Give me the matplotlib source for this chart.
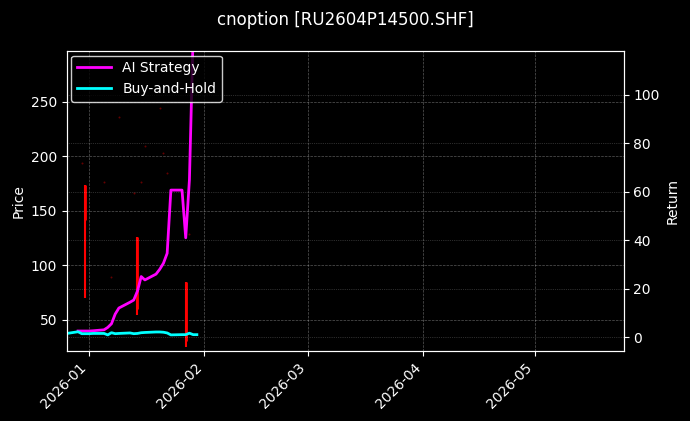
import pandas as pd
import numpy as np
import matplotlib
matplotlib.use("Agg")
import matplotlib.pyplot as plt
import matplotlib.dates as mdates

# ---------- data ----------
DATES = pd.to_datetime([
    "2025-12-26", "2025-12-29", "2025-12-30", "2025-12-31", "2026-01-01",
    "2026-01-02", "2026-01-05", "2026-01-06", "2026-01-07", "2026-01-08",
    "2026-01-09", "2026-01-12", "2026-01-13", "2026-01-14", "2026-01-15",
    "2026-01-16", "2026-01-19", "2026-01-20", "2026-01-21", "2026-01-22",
    "2026-01-23", "2026-01-26", "2026-01-27", "2026-01-28", "2026-01-29",
    "2026-01-30",
])
STRATEGY = [np.nan, 2.5, 2.5, 2.5, 2.5, 2.6, 3.0, 4.0, 5.5, 9.5,
            12.0, 14.4, 15.3, 19.0, 25.0, 23.6, 26.0, 28.0, 30.5, 34.6,
            60.7, 60.7, 41.0, 65.0, 125.0, 130.0]
BUY_HOLD = [1.5, 2.2, 1.4, 1.4, 1.4, 1.5, 1.5, 0.9, 1.8, 1.4,
            1.5, 1.7, 1.4, 1.5, 1.8, 1.9, 2.1, 2.1, 2.0, 1.7,
            0.9, 1.0, 1.0, 1.6, 1.0, 1.0]

# big candles: date, low, high, body low, body high
CANDLE_DATES = pd.to_datetime(["2025-12-31", "2026-01-14", "2026-01-27"])
CANDLE_LOW = [70, 54, 25]
CANDLE_HIGH = [173, 126, 84]
BODY_LOW = [141, 60, 30]
BODY_HIGH = [173, 126, 84]

# near-flat (doji) candles shown as faint dots
DOT_DATES = pd.to_datetime(["2025-12-30", "2026-01-05", "2026-01-07", "2026-01-09",
                            "2026-01-13", "2026-01-15", "2026-01-16", "2026-01-20",
                            "2026-01-21", "2026-01-22", "2026-01-28"])
DOT_PRICE = [194, 176, 89, 236, 166, 176, 209, 244, 203, 184, 128]

plt.style.use("dark_background")
fig = plt.figure(figsize=(6.9, 4.21), dpi=100)
ax = fig.add_axes([0.097, 0.166, 0.807, 0.712])
ax2 = ax.twinx()

ax.vlines(CANDLE_DATES, CANDLE_LOW, CANDLE_HIGH, color="red", linewidth=1.5)
ax.vlines(CANDLE_DATES, BODY_LOW, BODY_HIGH, color="red", linewidth=2)
ax.scatter(DOT_DATES, DOT_PRICE, s=2, color="#aa0000", alpha=0.6, linewidths=0)

ax2.plot(DATES, STRATEGY, color="#ff00ff", linewidth=2, label="AI Strategy")
ax2.plot(DATES, BUY_HOLD, color="#00ffff", linewidth=2, label="Buy-and-Hold")

ax.set_xlim(pd.Timestamp("2025-12-26"), pd.Timestamp("2026-05-25"))
ax.set_ylim(21, 296)
ax2.set_ylim(-5.8, 118)
ax.set_ylabel("Price")
ax2.set_ylabel("Return")
ax.grid(True, linestyle="--", linewidth=0.5, alpha=0.35)
ax2.grid(True, linestyle=":", linewidth=0.5, alpha=0.35)
ax.xaxis.set_major_locator(mdates.MonthLocator())
ax.xaxis.set_major_formatter(mdates.DateFormatter("%Y-%m"))
plt.setp(ax.get_xticklabels(), rotation=45, ha="right")

ax2.legend(loc="upper left", facecolor="black", edgecolor="white",
           borderaxespad=0.3, handlelength=2.5)
fig.suptitle("cnoption [RU2604P14500.SHF]", y=0.975, fontsize=12)

fig.savefig("out.png", dpi=100)
